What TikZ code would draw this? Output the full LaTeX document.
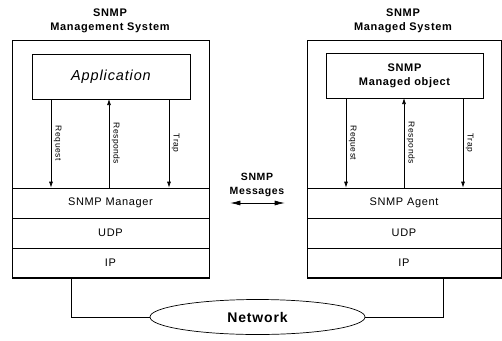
\documentclass[tikz,border=0pt]{standalone}
\usepackage{fontspec}
\setmainfont{Liberation Sans}[LetterSpace=6]
\usetikzlibrary{arrows.meta,shapes.geometric}
\begin{document}
\begin{tikzpicture}[x=1pt,y=-1pt]
\tikzset{system/.style={draw, line width=.7pt, inner sep=0pt},
  layer/.style={draw, line width=.7pt, inner sep=0pt, minimum height=30pt, font=\fontsize{11}{13}\selectfont},
  app/.style={draw, line width=.7pt, inner sep=0pt, minimum height=45pt, align=center},
  msg/.style={line width=.7pt, -{Latex[length=6pt,width=4pt]}},
  msglabel/.style={rotate=-90, anchor=south, inner sep=2.5pt, font=\fontsize{8.5}{10}\selectfont}}
    \useasboundingbox (0,0) rectangle (502,340);

    \node[align=center, font=\bfseries\fontsize{11}{14}\selectfont] at (110,21) (t_mgr) {SNMP\\Management System};
    \node[align=center, font=\bfseries\fontsize{11}{14}\selectfont] at (403,21) (t_agt) {SNMP\\Managed System};

    \node[system, minimum width=197pt, minimum height=237pt] at (110.5,158.5) (mgrsys) {};
    \node[system, minimum width=194pt, minimum height=237pt] at (404,158.5) (agtsys) {};

    \node[app, minimum width=158pt, font=\itshape\fontsize{14.5}{16}\selectfont] at (111,76.5) (appl) {Application};
    \node[app, minimum width=157pt, font=\bfseries\fontsize{11}{14}\selectfont] at (404.5,76) (mobj) {SNMP\\Managed object};

    \node[layer, minimum width=197pt] at (110.5,203) (mgr) {SNMP Manager};
    \node[layer, minimum width=197pt] at (110.5,233) (udp_1) {UDP};
    \node[layer, minimum width=197pt] at (110.5,263) (ip_1) {IP};
    \node[layer, minimum width=194pt] at (404,203) (agt) {SNMP Agent};
    \node[layer, minimum width=194pt] at (404,233) (udp_2) {UDP};
    \node[layer, minimum width=194pt] at (404,263) (ip_2) {IP};

    \node[align=center, font=\bfseries\fontsize{10.5}{14}\selectfont] at (257,185) (snmpmsg) {SNMP\\Messages};

    \node[draw, ellipse, line width=.7pt, minimum width=215pt, minimum height=35pt, font=\bfseries\fontsize{14}{16}\selectfont] at (257.5,317) (net) {Network};

    \coordinate (req_1) at (51,99);
    \coordinate (rsp_1) at (109,99);
    \coordinate (trp_1) at (169,99);
    \coordinate (req_2) at (346,98);
    \coordinate (rsp_2) at (404,98);
    \coordinate (trp_2) at (463,98);
    \coordinate (drop_1) at (71,278);
    \coordinate (drop_2) at (443,278);

    \draw[msg] (req_1) -- (req_1 |- mgr.north) node[midway, msglabel] {Request};
    \draw[msg] (rsp_1 |- mgr.north) -- (rsp_1) node[midway, msglabel] {Responds};
    \draw[msg] (trp_1) -- (trp_1 |- mgr.north) node[midway, msglabel] {Trap};
    \draw[msg] (req_2) -- (req_2 |- agt.north) node[midway, msglabel] {Request};
    \draw[msg] (rsp_2 |- agt.north) -- (rsp_2) node[midway, msglabel] {Responds};
    \draw[msg] (trp_2) -- (trp_2 |- agt.north) node[midway, msglabel] {Trap};

    \draw[line width=.7pt, {Latex[length=10pt,width=5pt]}-{Latex[length=10pt,width=5pt]}] ([xshift=21pt]mgr.east) -- ([xshift=-22pt]agt.west);

    \draw[line width=.7pt] (drop_1) |- (net.west);
    \draw[line width=.7pt] (drop_2) |- (net.east);
  \end{tikzpicture}
\end{document}
